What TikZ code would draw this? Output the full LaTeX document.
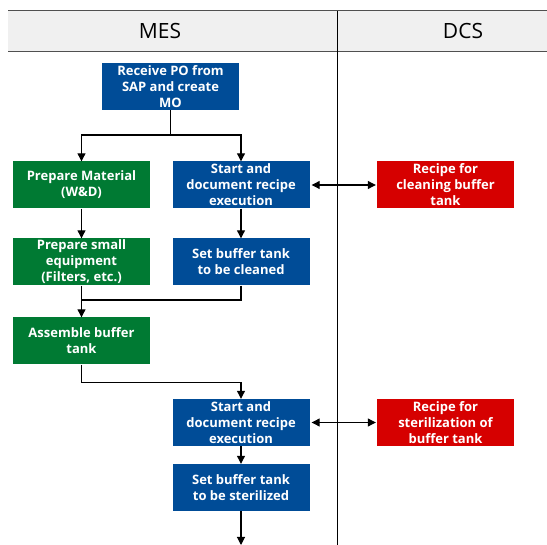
\documentclass[tikz,border=0pt]{standalone}
\usepackage{fontspec}
\setmainfont{Open Sans}
\usetikzlibrary{arrows.meta}
\definecolor{mesblue}{RGB}{0,76,151}
\definecolor{prepgreen}{RGB}{0,122,51}
\definecolor{dcsred}{RGB}{214,0,0}
\definecolor{headfill}{RGB}{240,240,240}
\definecolor{headline}{RGB}{80,80,80}
\begin{document}
\begin{tikzpicture}[x=1pt,y=-1pt,
  box/.style={minimum width=137pt, minimum height=47pt, inner sep=0pt,
    align=center, text=white, font=\bfseries\fontsize{13}{16}\selectfont},
  bluebox/.style={box, fill=mesblue},
  greenbox/.style={box, fill=prepgreen},
  redbox/.style={box, fill=dcsred},
  flow/.style={draw=black, line width=1.1pt, -{Triangle[length=8pt,width=8pt]}},
  link/.style={draw=black, line width=1.1pt},
  both/.style={draw=black, line width=1.1pt, {Triangle[length=8pt,width=8pt]}-{Triangle[length=8pt,width=8pt]}, shorten <=2pt, shorten >=1pt},
  lane/.style={font=\fontsize{21}{24}\selectfont, text=black}]
\useasboundingbox (0,0) rectangle (547,545);

% swimlane header and divider
\fill[headfill] (8,11) rectangle (547,52);
\draw[headline, line width=1pt] (8,11) -- (547,11);
\draw[headline, line width=1pt] (8,52) -- (547,52);
\draw[black, line width=1pt] (337,11) -- (337,545);
\node[lane] (mes) at (160,31) {MES};
\node[lane] (dcs) at (463,31) {DCS};

% MES steps
\node[bluebox] (po) at (170.5,86.5) {Receive PO from\\SAP and create\\MO};
\node[greenbox] (mat) at (81.5,185) {Prepare Material\\(W\&D)};
\node[bluebox] (start1) at (241,185) {Start and\\document recipe\\execution};
\node[greenbox] (small) at (81.5,262) {Prepare small\\equipment\\(Filters, etc.)};
\node[bluebox] (clean) at (241,262) {Set buffer tank\\to be cleaned};
\node[greenbox] (asm) at (81.5,341) {Assemble buffer\\tank};
\node[bluebox] (start2) at (241,422.5) {Start and\\document recipe\\execution};
\node[bluebox] (ster) at (241,487.5) {Set buffer tank\\to be sterilized};

% DCS recipes
\node[redbox] (rclean) at (445.5,185) {Recipe for\\cleaning buffer\\tank};
\node[redbox] (rster) at (445.5,422.5) {Recipe for\\sterilization of\\buffer tank};

% connectors
\coordinate (split) at (170.5,135);
\coordinate (merge) at (81.5,300);
\coordinate (out) at (241,545);
\draw[link] (po.south) -- (split);
\draw[flow] (split) -| (mat.north);
\draw[flow] (split) -| (start1.north);
\draw[flow] (mat.south) -- (small.north);
\draw[flow] (start1.south) -- (clean.north);
\draw[link] (clean.south) |- (merge);
\draw[flow] (small.south) -- (asm.north);
\draw[flow] (asm.south) -- ++(0,18) -| (start2.north);
\draw[flow] (start2.south) -- (ster.north);
\draw[flow] (ster.south) -- (out);
\draw[both] (start1.east) -- (rclean.west);
\draw[both] (start2.east) -- (rster.west);
\end{tikzpicture}
\end{document}
